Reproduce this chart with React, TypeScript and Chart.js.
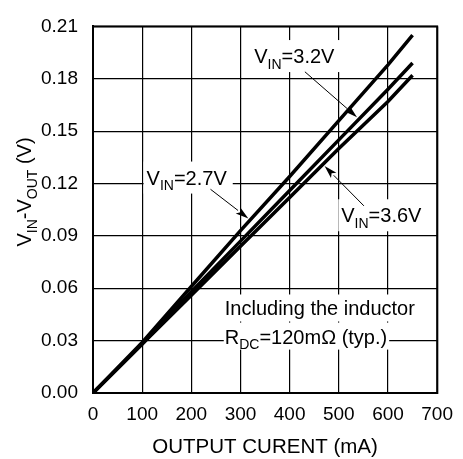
import React, { useEffect, useRef } from "react";
import { Chart, registerables } from "chart.js";

Chart.register(...registerables);

const currents = [0, 100, 200, 300, 400, 500, 600, 650];
const vin27 = [0, 0.029, 0.061, 0.093, 0.124, 0.156, 0.188, 0.205];
const vin32 = [0, 0.028, 0.058, 0.087, 0.116, 0.145, 0.174, 0.189];
const vin36 = [0, 0.028, 0.056, 0.084, 0.112, 0.140, 0.167, 0.182];
const yTicks = [0, 0.03, 0.06, 0.09, 0.12, 0.15, 0.18, 0.21];
const xTicks = [0, 100, 200, 300, 400, 500, 600, 700];

const FONT = "'Liberation Sans', Arial, sans-serif";

type Part = { t: string; sub?: boolean };

function measureRich(ctx: CanvasRenderingContext2D, parts: Part[], size: number, subSize: number) {
  let w = 0;
  for (const p of parts) {
    ctx.font = `${p.sub ? subSize : size}px ${FONT}`;
    w += ctx.measureText(p.t).width;
  }
  return w;
}

function drawRich(ctx: CanvasRenderingContext2D, parts: Part[], x: number, y: number, size: number, subSize: number) {
  let cx = x;
  ctx.textAlign = "left";
  ctx.textBaseline = "alphabetic";
  for (const p of parts) {
    ctx.font = `${p.sub ? subSize : size}px ${FONT}`;
    ctx.fillText(p.t, cx, p.sub ? y + size * 0.28 : y);
    cx += ctx.measureText(p.t).width;
  }
  return cx;
}

function arrow(ctx: CanvasRenderingContext2D, x1: number, y1: number, x2: number, y2: number) {
  ctx.save();
  ctx.strokeStyle = "#000";
  ctx.fillStyle = "#000";
  ctx.lineWidth = 1;
  const ang = Math.atan2(y2 - y1, x2 - x1);
  const L = 13, W = 3.8;
  const bx = x2 - L * Math.cos(ang), by = y2 - L * Math.sin(ang);
  ctx.beginPath();
  ctx.moveTo(x1, y1);
  ctx.lineTo(bx, by);
  ctx.stroke();
  ctx.beginPath();
  ctx.moveTo(x2, y2);
  ctx.lineTo(bx + W * Math.sin(ang), by - W * Math.cos(ang));
  ctx.lineTo(bx + 3 * Math.cos(ang), by + 3 * Math.sin(ang));
  ctx.lineTo(bx - W * Math.sin(ang), by + W * Math.cos(ang));
  ctx.closePath();
  ctx.fill();
  ctx.restore();
}

const labels = [
  { parts: [{ t: "V" }, { t: "IN", sub: true }, { t: "=3.2V" }], x: 328, y: 0.189, ax1: 431, ay1: 0.184, ax2: 537, ay2: 0.158 },
  { parts: [{ t: "V" }, { t: "IN", sub: true }, { t: "=2.7V" }], x: 109, y: 0.1194, ax1: 239, ay1: 0.1167, ax2: 316, ay2: 0.1 },
  { parts: [{ t: "V" }, { t: "IN", sub: true }, { t: "=3.6V" }], x: 505, y: 0.0978, ax1: 551, ay1: 0.1072, ax2: 471, ay2: 0.13 },
];

const noteLines: { parts: Part[]; y: number }[] = [
  { parts: [{ t: "Including the inductor" }], y: 0.0444 },
  { parts: [{ t: "R" }, { t: "DC", sub: true }, { t: "=120mΩ (typ.)" }], y: 0.0283 },
];
const noteX = 268;

const annotPlugin = {
  id: "annot",
  afterDatasetsDraw(chart: any) {
    const ctx: CanvasRenderingContext2D = chart.ctx;
    const xs = chart.scales.x, ys = chart.scales.y;
    const ca = chart.chartArea;
    const size = 20, sub = 14;
    ctx.save();
    for (const l of labels) {
      const px = xs.getPixelForValue(l.x), py = ys.getPixelForValue(l.y);
      const w = measureRich(ctx, l.parts as Part[], size, sub);
      ctx.fillStyle = "#fff";
      ctx.fillRect(px - 3, py - 23, w + 9, 32);
      ctx.fillStyle = "#000";
      drawRich(ctx, l.parts as Part[], px, py, size, sub);
      arrow(ctx, xs.getPixelForValue(l.ax1), ys.getPixelForValue(l.ay1), xs.getPixelForValue(l.ax2), ys.getPixelForValue(l.ay2));
    }
    const nx = xs.getPixelForValue(noteX);
    for (const n of noteLines) {
      const py = ys.getPixelForValue(n.y);
      const w = measureRich(ctx, n.parts, size, sub);
      ctx.fillStyle = "#fff";
      ctx.fillRect(nx - 1, py - 21, w + 3, 27);
    }
    ctx.fillStyle = "#000";
    for (const n of noteLines) {
      const py = ys.getPixelForValue(n.y);
      drawRich(ctx, n.parts, nx, py, size, sub);
    }
    ctx.strokeStyle = "#000";
    ctx.lineWidth = 2;
    ctx.strokeRect(ca.left, ca.top, ca.right - ca.left, ca.bottom - ca.top);
    ctx.font = `20.5px ${FONT}`;
    ctx.textAlign = "center";
    ctx.textBaseline = "alphabetic";
    ctx.fillText("OUTPUT CURENT (mA)", (ca.left + ca.right) / 2, 453);
    const yparts: Part[] = [{ t: "V" }, { t: "IN", sub: true }, { t: "-V" }, { t: "OUT", sub: true }, { t: " (V)" }];
    const tw = measureRich(ctx, yparts, 20, 14);
    ctx.translate(31, 192);
    ctx.rotate(-Math.PI / 2);
    drawRich(ctx, yparts, -tw / 2, 0, 20, 14);
    ctx.restore();
  },
};

export default function App() {
  const ref = useRef<HTMLCanvasElement>(null);
  useEffect(() => {
    if (!ref.current) return;
    const mk = (arr: number[]) => currents.map((x, i) => ({ x, y: arr[i] }));
    const ds = (label: string, arr: number[]) => ({
      label,
      data: mk(arr),
      borderColor: "#000",
      backgroundColor: "#000",
      borderWidth: 3.5,
      pointRadius: 0,
      tension: 0,
      fill: false,
    });
    const chart = new Chart(ref.current, {
      type: "line",
      data: {
        datasets: [ds("VIN=2.7V", vin27), ds("VIN=3.2V", vin32), ds("VIN=3.6V", vin36)],
      },
      options: {
        animation: false,
        responsive: true,
        maintainAspectRatio: false,
        layout: { padding: { top: 15, right: 18, left: 0, bottom: 0 } },
        plugins: { legend: { display: false }, tooltip: { enabled: false } },
        scales: {
          x: {
            type: "linear",
            min: 0,
            max: 700,
            afterFit: (s: any) => { s.height = 66; },
            afterBuildTicks: (s: any) => { s.ticks = xTicks.map((v) => ({ value: v })); },
            ticks: { color: "#000", font: { family: FONT, size: 19 }, padding: 10, callback: (v: any) => String(v), maxRotation: 0 },
            grid: { color: "#000", lineWidth: 1.2, drawTicks: false },
            border: { color: "#000", width: 2 },
          },
          y: {
            type: "linear",
            min: 0,
            max: 0.21,
            afterFit: (s: any) => { s.width = 93; },
            afterBuildTicks: (s: any) => { s.ticks = yTicks.map((v) => ({ value: v })); },
            ticks: { color: "#000", font: { family: FONT, size: 19 }, padding: 15, callback: (v: any) => Number(v).toFixed(2) },
            grid: { color: "#000", lineWidth: 1.2, drawTicks: false },
            border: { color: "#000", width: 2 },
          },
        },
      },
      plugins: [annotPlugin],
    });
    return () => chart.destroy();
  }, []);
  return (
    <div style={{ position: "fixed", left: 0, top: 0, width: 463, height: 459, background: "#fff" }}>
      <canvas ref={ref} />
    </div>
  );
}
